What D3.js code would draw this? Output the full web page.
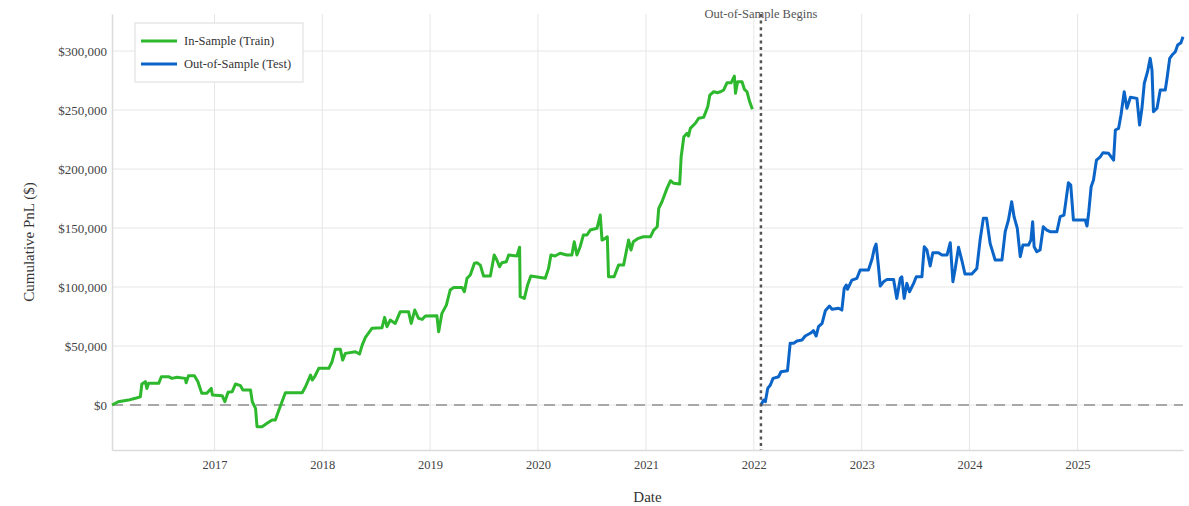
<!DOCTYPE html>
<html>
<head>
<meta charset="utf-8">
<script src="https://cdn.jsdelivr.net/npm/d3@7"></script>
<style>
  body { margin: 0; background: #fff; }
  #chart text { font-family: Garamond, "Liberation Serif", "DejaVu Serif", serif; }
</style>
</head>
<body>
<div id="chart"></div>
<script>
// in-sample (train) cumulative pnl
const trainDates = [
  "2016-01-20","2016-02-10","2016-03-16","2016-04-08","2016-04-25","2016-04-30","2016-05-12","2016-05-17","2016-05-23","2016-06-26",
  "2016-07-05","2016-07-29","2016-08-10","2016-08-27","2016-09-24","2016-09-27","2016-10-05","2016-10-25","2016-11-06","2016-11-19",
  "2016-12-06","2016-12-21","2016-12-25","2017-01-27","2017-02-05","2017-02-16","2017-03-02","2017-03-13","2017-03-30","2017-04-07",
  "2017-05-03","2017-05-09","2017-05-20","2017-05-25","2017-06-11","2017-06-28","2017-07-15","2017-07-26","2017-08-07","2017-08-29",
  "2017-10-02","2017-10-25","2017-11-05","2017-11-22","2017-11-28","2017-12-06","2017-12-20","2018-01-23","2018-02-03","2018-02-14",
  "2018-03-03","2018-03-11","2018-03-20","2018-04-23","2018-05-07","2018-05-16","2018-05-27","2018-06-18","2018-07-22","2018-07-31",
  "2018-08-08","2018-08-19","2018-09-05","2018-09-22","2018-10-20","2018-10-29","2018-11-10","2018-11-23","2018-12-05","2018-12-16",
  "2019-01-24","2019-01-30","2019-02-10","2019-02-25","2019-03-10","2019-03-22","2019-04-19","2019-04-27","2019-05-06","2019-05-17",
  "2019-05-31","2019-06-09","2019-06-20","2019-07-01","2019-07-24","2019-08-06","2019-08-15","2019-08-24","2019-09-01","2019-09-16",
  "2019-09-24","2019-10-22","2019-10-31","2019-11-02","2019-11-16","2019-11-27","2019-12-08","2020-01-26","2020-02-06","2020-02-14",
  "2020-02-28","2020-03-16","2020-04-08","2020-04-25","2020-05-03","2020-05-12","2020-05-23","2020-06-03","2020-06-15","2020-06-26",
  "2020-07-19","2020-07-30","2020-08-05","2020-08-16","2020-08-23","2020-08-27","2020-09-15","2020-09-30","2020-10-17","2020-11-03",
  "2020-11-11","2020-11-19","2020-12-06","2020-12-23","2021-01-16","2021-01-27","2021-02-08","2021-02-13","2021-02-24","2021-03-13",
  "2021-03-25","2021-04-05","2021-04-25","2021-04-30","2021-05-09","2021-05-20","2021-05-25","2021-05-31","2021-06-17","2021-06-28",
  "2021-07-15","2021-07-29","2021-08-05","2021-08-18","2021-09-01","2021-09-10","2021-09-21","2021-10-02","2021-10-16","2021-10-27",
  "2021-10-31","2021-11-07","2021-11-22","2021-11-30","2021-12-09","2021-12-18","2021-12-27"
];
const trainPnl = [
  0,2800,4200,5700,7000,17800,19800,14100,18400,18400,
  24000,24000,22600,23500,22600,18900,24800,24800,19800,9900,
  9900,14100,8500,7900,2800,10800,11300,17800,16400,12700,
  12700,2800,-2800,-18400,-18400,-15500,-12700,-12700,-4200,10400,
  10400,10400,15500,25400,21200,24000,31100,31100,36700,47200,
  47200,38100,43800,45200,43200,50800,57400,65000,65500,74300,
  66400,72000,69200,79100,79100,69200,80500,73500,72600,75400,
  75700,62100,77700,84700,97500,99700,99700,96000,107400,110200,
  120100,120600,118600,109300,109300,127100,122900,117200,120600,121400,
  127100,126300,133700,91800,90400,101700,109300,107400,115800,127100,
  126300,128600,127100,127100,138400,127100,134200,144100,144100,148300,
  149800,161000,139800,141300,142600,108700,108700,118600,118600,139800,
  131400,138400,141300,142600,142600,148300,151100,166700,172300,183600,
  190100,187900,187300,210400,227400,230300,228000,234500,238800,243000,
  243800,252800,262700,265500,264700,265500,267000,273100,273100,278800,
  264200,274000,274000,267600,265500,257000,250600
];

// out-of-sample (test) cumulative pnl
const testDates = [
  "2022-01-25","2022-02-03","2022-02-09","2022-02-17","2022-02-26","2022-03-07","2022-03-26","2022-04-03","2022-04-25","2022-05-04",
  "2022-05-16","2022-05-27","2022-06-13","2022-06-24","2022-07-11","2022-07-22","2022-07-31","2022-08-08","2022-08-20","2022-08-31",
  "2022-09-14","2022-09-23","2022-10-15","2022-10-26","2022-11-03","2022-11-10","2022-11-14","2022-11-29","2022-12-16","2022-12-27",
  "2023-01-24","2023-02-05","2023-02-13","2023-02-19","2023-02-27","2023-03-05","2023-03-16","2023-03-28","2023-04-19","2023-04-30",
  "2023-05-12","2023-05-17","2023-05-25","2023-06-03","2023-06-12","2023-06-26","2023-07-05","2023-07-24","2023-08-01","2023-08-10",
  "2023-08-21","2023-08-30","2023-09-18","2023-09-30","2023-10-17","2023-10-28","2023-11-06","2023-11-14","2023-11-25","2023-12-06",
  "2023-12-17","2024-01-09","2024-01-26","2024-02-06","2024-02-17","2024-02-28","2024-03-11","2024-03-28","2024-04-20","2024-05-01",
  "2024-05-12","2024-05-23","2024-05-31","2024-06-11","2024-06-21","2024-06-30","2024-07-19","2024-07-27","2024-08-02","2024-08-07",
  "2024-08-16","2024-08-27","2024-09-07","2024-09-19","2024-09-30","2024-10-23","2024-11-03","2024-11-16","2024-11-23","2024-12-01",
  "2024-12-09","2024-12-18","2025-01-27","2025-02-02","2025-02-08","2025-02-16","2025-02-24","2025-03-06","2025-03-19","2025-03-28",
  "2025-04-16","2025-05-03","2025-05-09","2025-05-20","2025-05-28","2025-06-08","2025-06-17","2025-06-29","2025-07-21","2025-07-30",
  "2025-08-07","2025-08-15","2025-08-26","2025-09-04","2025-09-10","2025-09-15","2025-09-27","2025-10-08","2025-10-25","2025-10-31",
  "2025-11-09","2025-11-17","2025-11-28","2025-12-06","2025-12-17","2025-12-24"
];
const testPnl = [
  0,4200,2800,14100,17000,22600,24000,28200,29100,52300,
  52300,54200,55100,58500,60800,63000,58500,66400,69200,79900,
  83900,81100,82000,80500,98900,101700,98100,105900,107400,114400,
  114400,123500,132800,136400,117200,100800,104500,106500,106500,90400,
  107400,108700,90400,103100,96000,103100,108700,108700,134200,131400,
  117800,129100,129100,127100,127100,137600,104500,115800,133700,122900,
  111000,111000,115800,139800,158200,158200,137000,122900,122900,146900,
  156800,172300,159600,149800,125700,135600,135600,139800,155300,134200,
  129900,131400,151100,148300,146900,146900,159600,161000,173700,188400,
  186400,156800,156800,151700,163800,185000,190700,207600,210400,213800,
  213300,207600,233100,234500,245800,265500,251500,260800,259900,237300,
  251500,272700,282500,293800,283900,248600,251500,267000,267000,276900,
  293800,296600,299400,305100,307100,312100
];

const yTicks = [0, 50000, 100000, 150000, 200000, 250000, 300000];
const xTickYears = [2017, 2018, 2019, 2020, 2021, 2022, 2023, 2024, 2025];
const oosStart = "2022-01-25";
const seriesNames = ["In-Sample (Train)", "Out-of-Sample (Test)"];
const seriesColors = ["#2db82d", "#0b64c8"];

const parse = d3.timeParse("%Y-%m-%d");
const train = trainDates.map((d, i) => ({date: parse(d), pnl: trainPnl[i]}));
const test = testDates.map((d, i) => ({date: parse(d), pnl: testPnl[i]}));

const W = 1189, H = 506;
const margin = {top: 14, right: 6, bottom: 56, left: 112};
const width = W - margin.left - margin.right;
const height = H - margin.top - margin.bottom;

const svg = d3.select("#chart").append("svg")
    .attr("width", W)
    .attr("height", H);
const g = svg.append("g")
    .attr("transform", `translate(${margin.left},${margin.top})`);

const x = d3.scaleTime()
    .domain([parse("2016-01-20"), parse("2025-12-24")])
    .range([0, width]);
const y = d3.scaleLinear()
    .domain([-38100, 331400])
    .range([height, 0]);

// grid
g.append("g").selectAll("line")
    .data(yTicks)
    .join("line")
    .attr("x1", 0).attr("x2", width)
    .attr("y1", d => y(d)).attr("y2", d => y(d))
    .attr("stroke", "#e6e6e6").attr("stroke-width", 1);
g.append("g").selectAll("line")
    .data(xTickYears)
    .join("line")
    .attr("x1", d => x(new Date(d, 0, 1))).attr("x2", d => x(new Date(d, 0, 1)))
    .attr("y1", 0).attr("y2", height)
    .attr("stroke", "#e6e6e6").attr("stroke-width", 1);

// axes
const xAxis = d3.axisBottom(x)
    .tickValues(xTickYears.map(d => new Date(d, 0, 1)))
    .tickFormat(d3.timeFormat("%Y"))
    .tickSize(0).tickPadding(10);
const yAxis = d3.axisLeft(y)
    .tickValues(yTicks)
    .tickFormat(d => "$" + d3.format(",")(d))
    .tickSize(0).tickPadding(5);

g.append("g")
    .attr("transform", `translate(0,${height})`)
    .call(xAxis)
    .call(a => a.select(".domain").attr("stroke", "#dcdcdc").attr("stroke-width", 1.5))
    .selectAll("text").attr("font-size", 12.5).attr("fill", "#444");
g.append("g")
    .call(yAxis)
    .call(a => a.select(".domain").attr("stroke", "#dcdcdc").attr("stroke-width", 1.5))
    .selectAll("text").attr("font-size", 13).attr("fill", "#444");

// zero line
g.append("line")
    .attr("x1", 0).attr("x2", width)
    .attr("y1", y(0)).attr("y2", y(0))
    .attr("stroke", "#a8a8a8").attr("stroke-width", 2)
    .attr("stroke-dasharray", "11,7");

// lines
const line = d3.line()
    .x(d => x(d.date))
    .y(d => y(d.pnl));
[train, test].forEach((data, i) => {
    g.append("path")
        .datum(data)
        .attr("fill", "none")
        .attr("stroke", seriesColors[i])
        .attr("stroke-width", 3)
        .attr("stroke-linejoin", "round")
        .attr("d", line);
});

// out-of-sample marker
const xo = x(parse(oosStart));
g.append("line")
    .attr("x1", xo).attr("x2", xo)
    .attr("y1", 0).attr("y2", height)
    .attr("stroke", "#555").attr("stroke-width", 2.5)
    .attr("stroke-dasharray", "3,3.6");
g.append("text")
    .attr("x", xo).attr("y", 4)
    .attr("text-anchor", "middle")
    .attr("font-size", 12.5)
    .attr("fill", "#555")
    .text("Out-of-Sample Begins");

// legend
const legend = g.append("g").attr("transform", "translate(23,9)");
legend.append("rect")
    .attr("width", 168).attr("height", 59)
    .attr("fill", "#fff").attr("stroke", "#dcdcdc").attr("stroke-width", 1);
seriesNames.forEach((name, i) => {
    const row = legend.append("g").attr("transform", `translate(0,${18 + i * 23})`);
    row.append("line")
        .attr("x1", 6).attr("x2", 42)
        .attr("stroke", seriesColors[i]).attr("stroke-width", 3);
    row.append("text")
        .attr("x", 49).attr("y", 4)
        .attr("font-size", 12.5)
        .attr("fill", "#333")
        .text(name);
});

// axis titles
svg.append("text")
    .attr("transform", `translate(34,${margin.top + height / 2 + 10}) rotate(-90)`)
    .attr("text-anchor", "middle")
    .attr("font-size", 15)
    .attr("fill", "#333")
    .text("Cumulative PnL ($)");
svg.append("text")
    .attr("x", margin.left + width / 2)
    .attr("y", 502)
    .attr("text-anchor", "middle")
    .attr("font-size", 15)
    .attr("fill", "#333")
    .text("Date");
</script>
</body>
</html>
